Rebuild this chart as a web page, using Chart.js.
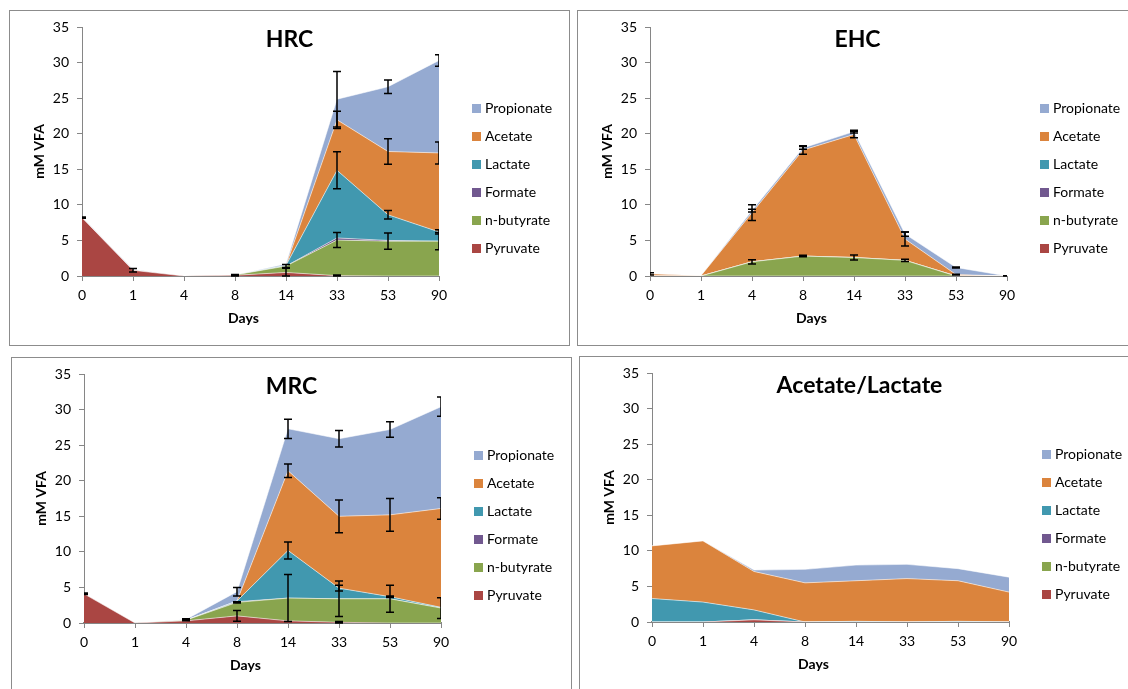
<!DOCTYPE html>
<html>
<head>
<meta charset="utf-8">
<script src="https://cdn.jsdelivr.net/npm/chart.js@4.4.0/dist/chart.umd.min.js"></script>
<style>
  body { margin: 0; background: #fff; width: 1128px; height: 689px; overflow: hidden; position: relative; }
  .panel { position: absolute; width: 561px; height: 336px; border: 1px solid #8c8c8c; box-sizing: border-box; }
  .panel canvas { position: absolute; left: -1px; top: -1px; }
</style>
</head>
<body>
<div class="panel" style="left:9px;top:10px"><canvas id="hrc" width="561" height="336"></canvas></div>
<div class="panel" style="left:577px;top:10px"><canvas id="ehc" width="561" height="336"></canvas></div>
<div class="panel" style="left:11px;top:357px"><canvas id="mrc" width="561" height="336"></canvas></div>
<div class="panel" style="left:579px;top:356px"><canvas id="al" width="561" height="336"></canvas></div>
<script>
const days = ["0", "1", "4", "8", "14", "33", "53", "90"];
const seriesNames = ["Pyruvate", "n-butyrate", "Formate", "Lactate", "Acetate", "Propionate"];
const seriesColors = ["#AA4643", "#89A54E", "#71588F", "#4198AF", "#DB843D", "#95AAD1"];
const xTitle = "Days";
const yTitle = "mM VFA";

// HRC (mM, each series on its own, stacked in the chart)
const hrcPyruvate = [8.2, 0.8, 0, 0.1, 0.5, 0.05, 0, 0];
const hrcButyrate = [0, 0, 0, 0.05, 0.9, 5.0, 4.9, 4.9];
const hrcFormate = [0, 0, 0, 0, 0, 0.3, 0.1, 0];
const hrcLactate = [0, 0, 0, 0, 0.1, 9.5, 3.6, 1.3];
const hrcAcetate = [0, 0, 0, 0, 0, 7.1, 8.9, 11.1];
const hrcPropionate = [0.1, 0.1, 0, 0, 0.2, 2.9, 9.1, 13.0];
// error bars (+/-), drawn at top of each series
const hrcPyruvateErr = [0.1, 0.25, 0, 0.1, 0.6, 0.1, 0, 0];
const hrcButyrateErr = [0, 0, 0, 0, 0.2, 1.05, 1.15, 1.2];
const hrcLactateErr = [0, 0, 0, 0, 0, 2.6, 0.6, 0.3];
const hrcAcetateErr = [0, 0, 0, 0, 0, 1.2, 1.8, 1.55];
const hrcPropionateErr = [0, 0, 0, 0, 0, 3.9, 0.95, 0.8];

// EHC
const ehcPyruvate = [0, 0, 0, 0, 0, 0, 0, 0];
const ehcButyrate = [0, 0, 2.0, 2.8, 2.6, 2.2, 0, 0];
const ehcFormate = [0, 0, 0, 0, 0, 0, 0, 0];
const ehcLactate = [0, 0, 0, 0, 0, 0, 0, 0];
const ehcAcetate = [0.3, 0.05, 6.9, 14.9, 17.3, 3.0, 0.2, 0];
const ehcPropionate = [0, 0, 0.3, 0.3, 0.4, 0.7, 1.0, 0];
const ehcButyrateErr = [0, 0, 0.3, 0.1, 0.35, 0.15, 0, 0];
const ehcAcetateErr = [0.15, 0, 1.1, 0.6, 0.45, 1.0, 0.05, 0.05];
const ehcPropionateErr = [0, 0, 0.2, 0.2, 0.2, 0.3, 0.08, 0];

// MRC
const mrcPyruvate = [4.1, 0, 0.3, 1.0, 0.3, 0.1, 0, 0];
const mrcButyrate = [0, 0, 0.1, 1.9, 3.2, 3.3, 3.4, 2.1];
const mrcFormate = [0, 0, 0, 0.1, 0, 0, 0, 0];
const mrcLactate = [0, 0, 0, 0.1, 6.7, 1.5, 0.3, 0.1];
const mrcAcetate = [0, 0, 0, 0, 11.2, 10.1, 11.5, 13.9];
const mrcPropionate = [0.05, 0, 0.1, 1.3, 5.9, 10.9, 12.0, 14.3];
const mrcPyruvateErr = [0.1, 0, 0, 0.75, 0, 0.1, 0, 0];
const mrcButyrateErr = [0, 0, 0.1, 0.1, 3.3, 2.5, 1.9, 1.45];
const mrcLactateErr = [0, 0, 0, 0, 1.2, 0.4, 0.1, 0];
const mrcAcetateErr = [0, 0, 0, 0, 0.95, 2.3, 2.3, 1.5];
const mrcPropionateErr = [0, 0, 0.1, 0.6, 1.35, 1.15, 1.1, 1.35];

// Acetate/Lactate (no error bars)
const alPyruvate = [0, 0, 0.3, 0, 0, 0, 0, 0];
const alButyrate = [0, 0, 0, 0, 0, 0, 0, 0];
const alFormate = [0, 0, 0, 0, 0, 0, 0, 0];
const alLactate = [3.3, 2.8, 1.4, 0, 0.1, 0, 0.1, 0];
const alAcetate = [7.4, 8.6, 5.4, 5.5, 5.7, 6.1, 5.7, 4.2];
const alPropionate = [0, 0, 0.2, 1.9, 2.2, 2.0, 1.7, 2.1];

Chart.defaults.font.family = "Lato";
Chart.defaults.color = "#000";

// error bars on top of each stacked series, clipped to the plot
const errorBars = {
  id: "errorBars",
  afterDatasetsDraw(chart) {
    const { ctx, chartArea, scales: { x, y } } = chart;
    const sets = chart.data.datasets;
    ctx.save();
    ctx.beginPath();
    ctx.rect(chartArea.left, chartArea.top - 2, chartArea.width, chartArea.height + 4);
    ctx.clip();
    ctx.strokeStyle = "#000";
    ctx.lineWidth = 1.5;
    sets.forEach((ds, i) => {
      if (!ds.errors) return;
      ds.errors.forEach((e, j) => {
        if (!e) return;
        let total = 0;
        for (let k = 0; k <= i; k++) total += sets[k].data[j];
        const px = x.getPixelForValue(j);
        const top = y.getPixelForValue(total + e);
        const bot = y.getPixelForValue(Math.max(total - e, 0));
        ctx.beginPath();
        ctx.moveTo(px, top); ctx.lineTo(px, bot);
        ctx.moveTo(px - 4, top); ctx.lineTo(px + 4, top);
        ctx.moveTo(px - 4, bot); ctx.lineTo(px + 4, bot);
        ctx.stroke();
      });
    });
    ctx.restore();
  }
};

// chart title, x title and legend, Excel style (title over the plot, legend at right)
const sideLegend = {
  id: "sideLegend",
  afterDraw(chart) {
    const { ctx, chartArea } = chart;
    const opts = chart.options.plugins.sideLegend;
    const sets = chart.data.datasets.slice().reverse();
    ctx.save();
    ctx.textBaseline = "middle";
    ctx.font = "14px Lato";
    const y0 = chart.height / 2 - 2.5 * 28 + 0.5;
    sets.forEach((ds, i) => {
      const yy = y0 + i * 28;
      ctx.fillStyle = ds.backgroundColor;
      ctx.fillRect(chartArea.right + 33, yy - 4.5, 9, 9);
      ctx.fillStyle = "#000";
      ctx.fillText(ds.label, chartArea.right + 46, yy);
    });
    ctx.textAlign = "center";
    ctx.font = "bold 14px Lato";
    ctx.fillText(xTitle, (chartArea.left + chartArea.right) / 2 - 17, chart.height - 28);
    ctx.font = "bold 23px Lato";
    ctx.fillText(opts.title, chart.width / 2, 29.5);
    ctx.restore();
  }
};

function makeChart(id, title, values, errors, axisWidth) {
  const datasets = values.map((v, i) => ({
    label: seriesNames[i],
    data: v,
    errors: errors[i],
    backgroundColor: seriesColors[i],
    borderColor: "rgba(255,255,255,0.55)",
    borderWidth: 1,
    pointRadius: 0,
    tension: 0,
    fill: i === 0 ? "origin" : "-1"
  }));
  new Chart(document.getElementById(id), {
    type: "line",
    data: { labels: days, datasets },
    options: {
      responsive: false,
      animation: false,
      layout: { padding: { left: 0, top: 17, right: 131, bottom: 0 } },
      plugins: {
        legend: { display: false },
        tooltip: { enabled: false },
        sideLegend: { title }
      },
      scales: {
        x: {
          offset: false,
          afterFit: (s) => { s.height = 70; },
          grid: { drawOnChartArea: false, drawTicks: true, tickLength: 5, color: "#868686" },
          border: { color: "#868686", width: axisWidth },
          ticks: { font: { size: 14 }, padding: 6, maxRotation: 0 }
        },
        y: {
          stacked: true,
          min: 0,
          max: 35,
          afterFit: (s) => { s.width = 73; },
          grid: { drawOnChartArea: false, drawTicks: true, tickLength: 5, color: "#868686" },
          border: { color: "#868686", width: 1 },
          ticks: { stepSize: 5, font: { size: 14 }, padding: 8 },
          title: { display: true, text: yTitle, font: { size: 14, weight: "bold" }, padding: { top: 22, bottom: 0 } }
        }
      }
    },
    plugins: [errorBars, sideLegend]
  });
}

makeChart("hrc", "HRC",
  [hrcPyruvate, hrcButyrate, hrcFormate, hrcLactate, hrcAcetate, hrcPropionate],
  [hrcPyruvateErr, hrcButyrateErr, null, hrcLactateErr, hrcAcetateErr, hrcPropionateErr], 1);
makeChart("ehc", "EHC",
  [ehcPyruvate, ehcButyrate, ehcFormate, ehcLactate, ehcAcetate, ehcPropionate],
  [null, ehcButyrateErr, null, null, ehcAcetateErr, ehcPropionateErr], 1);
makeChart("mrc", "MRC",
  [mrcPyruvate, mrcButyrate, mrcFormate, mrcLactate, mrcAcetate, mrcPropionate],
  [mrcPyruvateErr, mrcButyrateErr, null, mrcLactateErr, mrcAcetateErr, mrcPropionateErr], 2);
makeChart("al", "Acetate/Lactate",
  [alPyruvate, alButyrate, alFormate, alLactate, alAcetate, alPropionate],
  [null, null, null, null, null, null], 2);
</script>
</body>
</html>
